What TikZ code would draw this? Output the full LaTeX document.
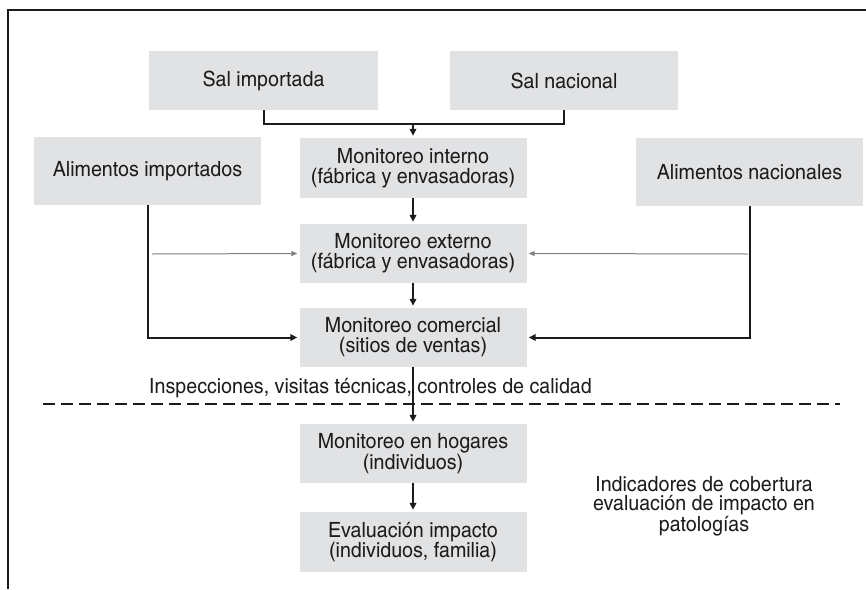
\documentclass[tikz,border=0pt]{standalone}
\usepackage{fontspec}
\setmainfont{texgyreheroscn-regular.otf}[FakeStretch=1.14]
\usetikzlibrary{arrows.meta}
\definecolor{boxfill}{RGB}{225,226,228}
\definecolor{ink}{RGB}{28,28,28}
\begin{document}
\begin{tikzpicture}[x=1pt,y=-1pt,
  box/.style={fill=boxfill, minimum width=227pt, minimum height=60pt, inner sep=0pt, align=center, text=ink, font=\fontsize{21}{20}\selectfont},
  conn/.style={line width=2pt, draw=ink},
  arr/.style={conn, -{Triangle[length=7pt,width=6.5pt]}, shorten >=2pt},
  garr/.style={line width=1pt, draw=gray, -{Triangle[length=6pt,width=5pt]}, shorten >=2pt},
  lbl/.style={text=ink, inner sep=0pt, align=center, font=\fontsize{21}{19.5}\selectfont}]
\useasboundingbox (0,0) rectangle (866,589);
% frame
\draw[line width=1.4pt, draw=ink] (8,589) -- (8,10) -- (866,10);
% boxes
\node[box, minimum width=229pt, minimum height=59pt] (salimp) at (263.5,80.5) {Sal importada};
\node[box, minimum width=228pt, minimum height=59pt] (salnac) at (564,80.5) {Sal nacional};
\node[box] (mint) at (413,168) {Monitoreo interno\\(fábrica y envasadoras)};
\node[box, minimum height=68pt] (alimp) at (147.5,171) {Alimentos importados};
\node[box, minimum height=68pt] (alnac) at (749.5,172) {Alimentos nacionales};
\node[box, minimum height=59pt] (mext) at (413,253.5) {Monitoreo externo\\(fábrica y envasadoras)};
\node[box, minimum height=59pt] (mcom) at (413,337.5) {Monitoreo comercial\\(sitios de ventas)};
\node[box, minimum height=59pt] (mhog) at (413,453.5) {Monitoreo en hogares\\(individuos)};
\node[box] (meval) at (413,542) {Evaluación impacto\\(individuos, familia)};
% labels
\node[lbl, anchor=base] (insp) at (370.5,393) {Inspecciones, visitas técnicas, controles de calidad};
\node[lbl, anchor=north] (ind) at (704,476) {Indicadores de cobertura\\evaluación de impacto en\\patologías};
% dashed separator
\coordinate (dl) at (43,404);
\coordinate (dr) at (840,404);
\draw[line width=1.8pt, draw=ink, dash pattern=on 12pt off 6pt] (dl) -- (dr);
% connectors
\coordinate (j) at (413,124);
\draw[conn] (salimp.south) |- (j) -| (salnac.south);
\draw[arr] (j) -- (mint.north);
\draw[arr] (mint.south) -- (mext.north);
\draw[arr] (mext.south) -- (mcom.north);
\draw[arr] (mcom.south) -- (mhog.north);
\draw[arr] (mhog.south) -- (meval.north);
\draw[arr] (alimp.south) |- (mcom.west);
\draw[arr] (alnac.south) |- (mcom.east);
\coordinate (gl) at (152,254);
\coordinate (gr) at (748,254);
\draw[garr] (gl) -- (mext.west);
\draw[garr] (gr) -- (mext.east);
\end{tikzpicture}
\end{document}
